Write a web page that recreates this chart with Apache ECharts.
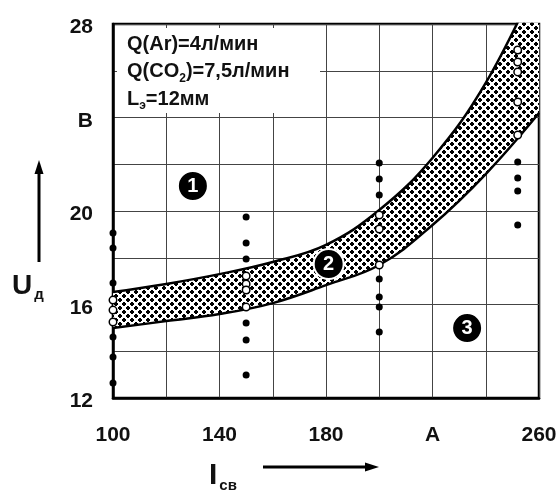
<!DOCTYPE html>
<html lang="ru" style="height: 100%">
<head>
  <meta charset="utf-8">
</head>
<body style="height: 100%; margin: 0; background: #fff">
  <div id="container" style="width: 560px; height: 497px"></div>

  <script type="text/javascript" src="https://cdn.jsdelivr.net/npm/echarts@6/dist/echarts.min.js"></script>
  <script type="text/javascript">
    // сетка и подписи осей
    var xTickLabels = { 100: '100', 140: '140', 180: '180', 220: 'A', 260: '260' };
    var yTickLabels = { 12: '12', 16: '16', 20: '20', 24: 'B', 28: '28' };

    // границы области 2
    var bandX = [100, 120, 140, 160, 180, 200, 220, 240, 260];
    var bandLower = [14.99, 15.29, 15.59, 16.06, 16.83, 17.69, 19.40, 21.58, 24.19];
    var bandUpper = [16.53, 16.88, 17.30, 17.82, 18.55, 20.04, 22.27, 25.48, 30.0];

    // экспериментальные точки по столбцам тока
    var dotColumns = [100, 150, 200, 252];
    var filledValues = [
      [19.06, 18.42, 16.92, 14.61, 13.75, 12.64],
      [19.74, 18.63, 17.95, 15.21, 14.48, 12.98],
      [22.05, 21.37, 20.68, 17.09, 16.32, 15.89, 14.82],
      [22.10, 21.41, 20.86, 19.40]
    ];
    var openValues = [
      [16.19, 15.76, 15.25],
      [17.22, 16.88, 16.62, 15.89],
      [19.83, 19.23, 17.69],
      [26.89, 26.37, 25.95, 24.66, 23.25]
    ];

    // номера областей
    var zoneNames = ['1', '2', '3'];
    var zonePos = [[130, 21.07], [181, 17.73], [233, 14.99]];

    var FONT = '"Liberation Sans", Arial, sans-serif';

    // сетчатая штриховка: чёрные ромбы, белые диагонали
    function hatch() {
      var n = 8;
      var c = document.createElement('canvas');
      c.width = n; c.height = n;
      var g = c.getContext('2d');
      var img = g.createImageData(n, n);
      for (var j = 0; j < n; j++) {
        for (var i = 0; i < n; i++) {
          var x = i + 0.5, y = j + 0.5;
          var m1 = ((x - y) % n + n) % n, m2 = (x + y) % n;
          var d = Math.min(Math.min(m1, n - m1), Math.min(m2, n - m2)) / Math.SQRT2;
          var v = d < 0.72 ? 255 : 0;
          var k = (j * n + i) * 4;
          img.data[k] = img.data[k + 1] = img.data[k + 2] = v;
          img.data[k + 3] = 255;
        }
      }
      g.putImageData(img, 0, 0);
      return c;
    }

    // [y, x] — чтобы стек шёл по напряжению, а не по току
    var lowerData = bandX.map(function (x, i) { return [bandLower[i], x]; });
    var diffData = bandX.map(function (x, i) { return [+(bandUpper[i] - bandLower[i]).toFixed(2), x]; });

    var filledData = [], openData = [];
    dotColumns.forEach(function (x, i) {
      filledValues[i].forEach(function (v) { filledData.push([x, v]); });
      openValues[i].forEach(function (v) { openData.push([x, v]); });
    });
    var zoneData = zoneNames.map(function (n, i) { return { name: n, value: zonePos[i] }; });

    var dom = document.getElementById('container');
    var myChart = echarts.init(dom, null, { renderer: 'canvas' });
    var option;

    option = {
      animation: false,
      backgroundColor: '#fff',
      grid: {
        left: 113, right: 21, top: 24, bottom: 99,
        show: true, borderColor: '#000', borderWidth: 2.5
      },
      xAxis: {
        type: 'value', min: 100, max: 260, interval: 20,
        axisLine: { show: true, lineStyle: { color: '#000', width: 2.5 } },
        axisTick: { show: false },
        splitLine: { show: true, lineStyle: { color: '#444', width: 1 } },
        axisLabel: {
          margin: 27, fontSize: 21, fontWeight: 'bold', color: '#111', fontFamily: FONT,
          formatter: function (v) { return xTickLabels[v] || ''; }
        }
      },
      yAxis: {
        type: 'value', min: 12, max: 28, interval: 2,
        axisLine: { show: true, lineStyle: { color: '#000', width: 2.5 } },
        axisTick: { show: false },
        splitLine: { show: true, lineStyle: { color: '#444', width: 1 } },
        axisLabel: {
          margin: 20, fontSize: 21, fontWeight: 'bold', color: '#111', fontFamily: FONT,
          verticalAlign: 'top', padding: [-7, 0, 0, 0],
          formatter: function (v) { return yTickLabels[v] || ''; }
        }
      },
      series: [
        {
          type: 'line', stack: 'band', data: lowerData, encode: { x: 1, y: 0 }, smooth: 0.4,
          symbol: 'none', lineStyle: { color: '#000', width: 2.5 }
        },
        {
          type: 'line', stack: 'band', data: diffData, encode: { x: 1, y: 0 }, smooth: 0.4,
          symbol: 'none', lineStyle: { color: '#000', width: 2.5 },
          areaStyle: { color: { image: hatch(), repeat: 'repeat' }, opacity: 1 }
        },
        {
          type: 'scatter', data: filledData, symbolSize: 7, z: 4,
          itemStyle: { color: '#000', opacity: 1 }
        },
        {
          type: 'scatter', data: openData, symbolSize: 7.5, z: 4,
          itemStyle: { color: '#fff', borderColor: '#000', borderWidth: 1.5, opacity: 1 }
        },
        {
          type: 'scatter', data: zoneData, symbolSize: 30, z: 5,
          itemStyle: { color: '#000', borderColor: '#fff', borderWidth: 2, opacity: 1 },
          label: {
            show: true, position: 'inside', formatter: '{b}',
            color: '#fff', fontSize: 20, fontWeight: 'bold', fontFamily: FONT
          }
        }
      ],
      graphic: [
        {
          type: 'rect', z: 1,
          shape: { x: 117, y: 28, width: 203, height: 85 },
          style: { fill: '#fff' }
        },
        {
          type: 'text', z: 3, left: 127, top: 34,
          style: {
            text: '{m|Q(Ar)=4л/мин}\n{m|Q(CO}{s|2}{m|)=7,5л/мин}\n{m|L}{s|э}{m|=12мм}',
            font: 'bold 20px ' + FONT, fill: '#111',
            rich: {
              m: { fontSize: 20, fontWeight: 'bold', lineHeight: 27.5, fontFamily: FONT, fill: '#111' },
              s: { fontSize: 12, fontWeight: 'bold', lineHeight: 27.5, fontFamily: FONT, fill: '#111', verticalAlign: 'bottom', padding: [0, 0, 1, 0] }
            }
          }
        },
        {
          type: 'text', z: 3, left: 12, top: 272,
          style: {
            text: '{b|U}{s|д}',
            rich: {
              b: { fontSize: 28, fontWeight: 'bold', fontFamily: FONT, fill: '#111', lineHeight: 32 },
              s: { fontSize: 15, fontWeight: 'bold', fontFamily: FONT, fill: '#111', lineHeight: 32, verticalAlign: 'bottom', padding: [0, 0, 0, 2] }
            }
          }
        },
        {
          type: 'line', z: 3,
          shape: { x1: 39, y1: 262, x2: 39, y2: 170 },
          style: { stroke: '#000', lineWidth: 3 }
        },
        {
          type: 'polygon', z: 3,
          shape: { points: [[39, 160], [34.5, 174], [43.5, 174]] },
          style: { fill: '#000' }
        },
        {
          type: 'text', z: 3, left: 209, top: 461,
          style: {
            text: '{b|I}{s|св}',
            rich: {
              b: { fontSize: 30, fontWeight: 'bold', fontFamily: FONT, fill: '#111', lineHeight: 34 },
              s: { fontSize: 15, fontWeight: 'bold', fontFamily: FONT, fill: '#111', lineHeight: 34, verticalAlign: 'bottom', padding: [0, 0, 0, 2] }
            }
          }
        },
        {
          type: 'line', z: 3,
          shape: { x1: 263, y1: 467, x2: 368, y2: 467 },
          style: { stroke: '#000', lineWidth: 3 }
        },
        {
          type: 'polygon', z: 3,
          shape: { points: [[379, 467], [365, 462.5], [365, 471.5]] },
          style: { fill: '#000' }
        }
      ]
    };

    if (option && typeof option === 'object') {
      myChart.setOption(option);
    }

    window.addEventListener('resize', myChart.resize);
  </script>
</body>
</html>
